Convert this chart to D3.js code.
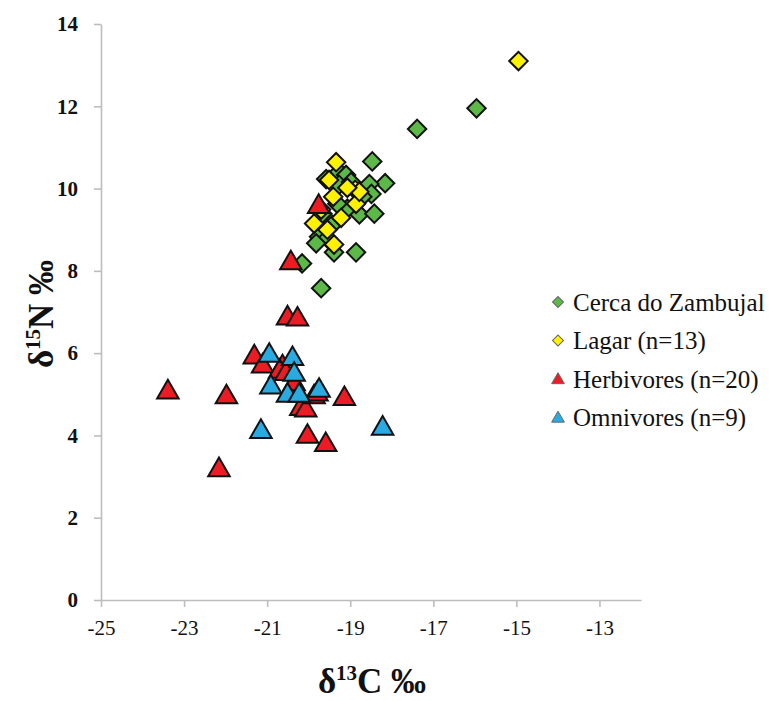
<!DOCTYPE html>
<html>
<head>
<meta charset="utf-8">
<script src="https://cdn.jsdelivr.net/npm/d3@7"></script>
</head>
<body style="margin:0">
<svg id="chart" width="769" height="701" font-family="'Liberation Serif', 'Times New Roman', serif"></svg>
<script>
// values: [d13C, d15N]
const cercaDoZambujal = [
    [-15.96, 11.95], [-17.39, 11.45], [-18.47, 10.66], [-18.16, 10.13], [-18.54, 10.11],
    [-19.27, 10.40], [-19.10, 10.33], [-19.58, 10.23], [-19.27, 10.09], [-18.98, 10.16],
    [-18.49, 9.87], [-18.71, 9.80], [-18.78, 9.37], [-18.42, 9.39], [-19.07, 9.51],
    [-19.31, 9.63], [-19.67, 9.39], [-19.43, 9.12], [-19.75, 8.83], [-19.55, 8.79],
    [-19.39, 8.45], [-18.86, 8.45], [-20.16, 8.18], [-19.70, 7.58], [-19.82, 8.67]
]
const lagar = [
    [-14.95, 13.10], [-19.34, 10.64], [-19.51, 10.21], [-18.88, 9.97], [-19.41, 9.80],
    [-18.86, 9.63], [-19.22, 9.29], [-19.87, 9.15], [-19.55, 9.00], [-19.39, 8.64],
    [-18.78, 9.92], [-19.07, 10.02], [-19.70, 9.49]
]
const herbivores = [
    [-23.39, 5.05], [-21.98, 4.93], [-22.16, 3.16], [-19.76, 9.56], [-20.43, 8.19],
    [-20.51, 6.85], [-20.27, 6.82], [-21.31, 5.90], [-21.11, 5.68], [-20.63, 5.66],
    [-20.70, 5.55], [-20.55, 5.50], [-20.19, 4.65], [-20.07, 4.61], [-19.87, 4.93],
    [-19.14, 4.89], [-20.03, 3.97], [-19.59, 3.77], [-20.35, 5.25], [-19.80, 5.00]
]
const omnivores = [
    [-20.95, 5.94], [-20.39, 5.86], [-20.35, 5.48], [-20.91, 5.17], [-20.51, 4.97],
    [-20.23, 4.97], [-19.75, 5.09], [-21.15, 4.09], [-18.22, 4.17]
]
const xTicks = [-25, -23, -21, -19, -17, -15, -13]
const yTicks = [0, 2, 4, 6, 8, 10, 12, 14]

const series = [
    { name: "Cerca do Zambujal", data: cercaDoZambujal, shape: "diamond", color: "#5cb947" },
    { name: "Lagar (n=13)", data: lagar, shape: "diamond", color: "#fff200" },
    { name: "Herbivores (n=20)", data: herbivores, shape: "triangle", color: "#ed1c24" },
    { name: "Omnivores (n=9)", data: omnivores, shape: "triangle", color: "#29abe2" }
]

var svg = d3.select("#chart")

var x = d3.scaleLinear().domain([-25, -12]).range([101, 641])
var y = d3.scaleLinear().domain([0, 14]).range([600, 24])

// axes (plain hyphen for negatives, like the original)
var yAxis = svg.append("g")
    .attr("transform", "translate(" + x(-25) + ",0)")
    .call(d3.axisLeft(y).tickValues(yTicks).tickFormat(d => String(d))
        .tickSize(7).tickSizeOuter(0).tickPadding(16))
var xAxis = svg.append("g")
    .attr("transform", "translate(0," + y(0) + ")")
    .call(d3.axisBottom(x).tickValues(xTicks).tickFormat(d => String(d))
        .tickSize(7).tickSizeOuter(0).tickPadding(13))

// drop the sans-serif that d3 puts on the axis groups
yAxis.attr("font-family", null)
xAxis.attr("font-family", null)

svg.selectAll(".domain, .tick line")
    .attr("stroke", "#bdbdbd")
    .attr("stroke-width", 1.6)
svg.selectAll(".tick text")
    .attr("fill", "#111")
    .attr("font-size", 21)
yAxis.selectAll(".tick text").attr("font-weight", "bold")

// axis titles
svg.append("text")
    .attr("transform", "translate(53,314) rotate(-90)")
    .attr("text-anchor", "middle")
    .attr("font-weight", "bold")
    .attr("font-size", 35)
    .attr("fill", "#111")
    .call(t => {
        t.append("tspan").text("δ")
        t.append("tspan").attr("font-size", 21).attr("dy", -13).text("15")
        t.append("tspan").attr("dy", 13).text("N ‰")
    })

svg.append("text")
    .attr("x", 372)
    .attr("y", 693)
    .attr("text-anchor", "middle")
    .attr("font-weight", "bold")
    .attr("font-size", 35)
    .attr("fill", "#111")
    .call(t => {
        t.append("tspan").text("δ")
        t.append("tspan").attr("font-size", 21).attr("dy", -13).text("13")
        t.append("tspan").attr("dy", 13).text("C ‰")
    })

function shapeOf(s, size) {
    if (s == "diamond") return d3.symbol(d3.symbolSquare, size)()
    return d3.symbol(d3.symbolTriangle, size)()
}

// points
series.forEach(function (s) {
    svg.append("g")
        .selectAll("path")
        .data(s.data)
        .enter().append("path")
        .attr("d", shapeOf(s.shape, s.shape == "diamond" ? 170 : 200))
        .attr("transform", function (d) {
            return "translate(" + x(d[0]) + "," + y(d[1]) + ")" + (s.shape == "diamond" ? " rotate(45)" : "")
        })
        .attr("fill", s.color)
        .attr("stroke", "#111")
        .attr("stroke-width", 2)
        .attr("stroke-linejoin", "miter")
})

// legend
var legend = svg.append("g")
    .selectAll("g")
    .data(series)
    .enter().append("g")
    .attr("transform", function (d, i) { return "translate(558," + (302 + i * 38.5) + ")"; })

legend.append("path")
    .attr("d", function (d) { return shapeOf(d.shape, d.shape == "diamond" ? 60 : 70) })
    .attr("transform", function (d) { return d.shape == "diamond" ? "rotate(45)" : "translate(0,1)" })
    .attr("fill", function (d) { return d.color })
    .attr("stroke", "#666")
    .attr("stroke-width", 1)

legend.append("text")
    .attr("x", 15)
    .attr("y", 0)
    .attr("dy", "0.35em")
    .attr("font-size", 25)
    .attr("fill", "#111")
    .text(function (d) { return d.name })
</script>
</body>
</html>
